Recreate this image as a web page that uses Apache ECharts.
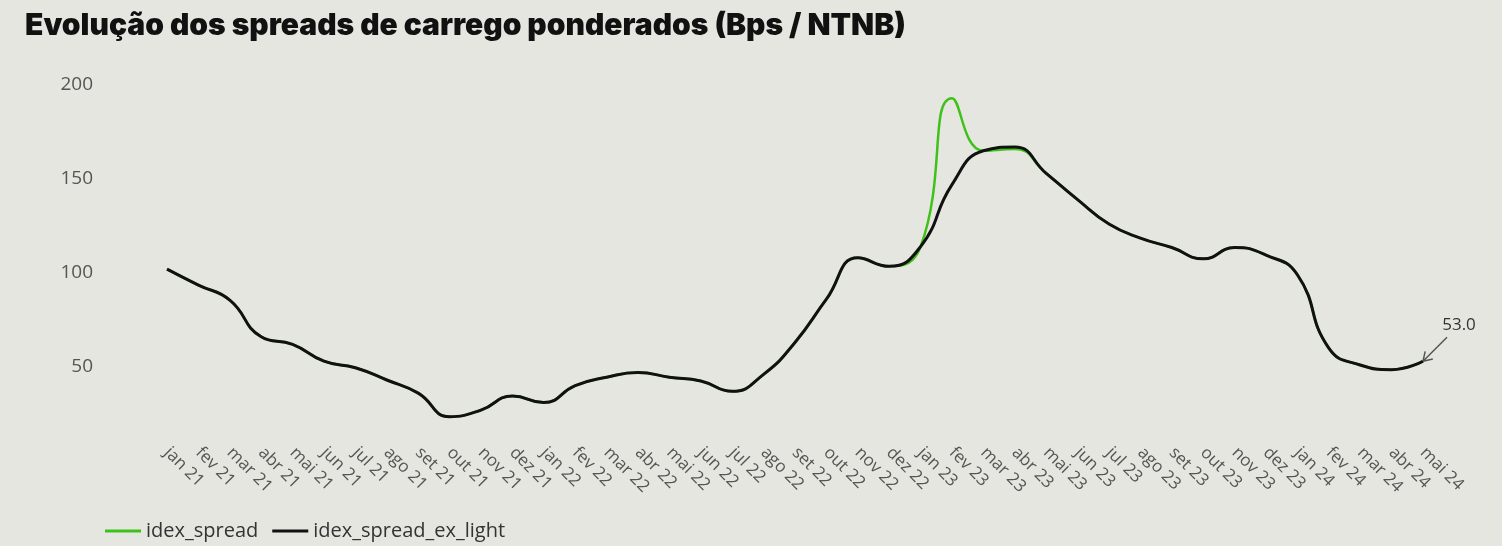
<!DOCTYPE html>
<html>
<head>
<meta charset="utf-8">
<title>Evolução dos spreads de carrego ponderados</title>
<script src="https://cdn.jsdelivr.net/npm/echarts@6.0.0/dist/echarts.min.js"></script>
<style>
  html, body { margin: 0; padding: 0; background: #ffffff; }
  #chart { width: 1502px; height: 546px; background: #e6e6e1; }
</style>
</head>
<body>
<div id="chart"></div>
<script>
// meses (jan 21 .. mai 24)
var months = [
  'jan 21', 'fev 21', 'mar 21', 'abr 21', 'mai 21', 'jun 21', 'jul 21', 'ago 21', 'set 21', 'out 21', 'nov 21', 'dez 21',
  'jan 22', 'fev 22', 'mar 22', 'abr 22', 'mai 22', 'jun 22', 'jul 22', 'ago 22', 'set 22', 'out 22', 'nov 22', 'dez 22',
  'jan 23', 'fev 23', 'mar 23', 'abr 23', 'mai 23', 'jun 23', 'jul 23', 'ago 23', 'set 23', 'out 23', 'nov 23', 'dez 23',
  'jan 24', 'fev 24', 'mar 24', 'abr 24', 'mai 24'
];

// idex_spread (verde)
var idexSpread = [
  102, 93.5, 85.5, 66, 62, 53, 49.5, 43, 36, 23.5, 27, 34.5,
  31, 40, 44.5, 47, 44.5, 42.5, 37, 46, 63, 86, 108, 103.5,
  114, 193, 165, 166, 153, 139, 126, 118.5, 113.5, 107.5, 113.5, 109.5,
  99, 60, 51, 48.5, 53
];

// idex_spread_ex_light (preto)
var idexSpreadExLight = [
  102, 93.5, 85.5, 66, 62, 53, 49.5, 43, 36, 23.5, 27, 34.5,
  31, 40, 44.5, 47, 44.5, 42.5, 37, 46, 63, 86, 108, 103.5,
  114, 147, 165, 167, 153, 139, 126, 118.5, 113.5, 107.5, 113.5, 109.5,
  99, 60, 51, 48.5, 53
];

var yTicks = [50, 100, 150, 200];

var lastIdx = months.length - 1;

var myChart = echarts.init(document.getElementById('chart'));

var option = {
  backgroundColor: '#e6e6e1',
  animation: false,
  title: {
    text: 'Evolução dos spreads de carrego ponderados (Bps / NTNB)',
    left: 20,
    top: 6,
    textStyle: {
      fontFamily: 'Inter',
      fontWeight: 900,
      fontSize: 30,
      color: '#111111'
    }
  },
  legend: {
    left: 100,
    top: 516,
    icon: 'rect',
    itemWidth: 36,
    itemHeight: 3,
    itemGap: 14,
    textStyle: { fontFamily: 'Open Sans', fontSize: 20, color: '#333333' },
    data: ['idex_spread', 'idex_spread_ex_light']
  },
  grid: {
    left: 167,
    right: 79,
    top: 85,
    bottom: 104
  },
  xAxis: {
    type: 'category',
    data: months,
    boundaryGap: false,
    axisLine: { show: false },
    axisTick: { show: false },
    axisLabel: {
      rotate: -45,
      margin: 8,
      interval: 0,
      fontFamily: 'Open Sans',
      fontSize: 17,
      color: '#555555'
    }
  },
  yAxis: {
    type: 'value',
    min: 10,
    max: 200,
    splitLine: { show: false },
    axisLine: { show: false },
    axisTick: { show: false },
    axisLabel: {
      customValues: yTicks,
      margin: 74,
      fontFamily: 'Open Sans',
      fontSize: 19,
      color: '#555555'
    }
  },
  series: [
    {
      name: 'idex_spread',
      type: 'line',
      smooth: 0.5,
      showSymbol: false,
      data: idexSpread,
      lineStyle: { width: 2.5, color: '#3ec21a' },
      itemStyle: { color: '#3ec21a' },
      z: 2
    },
    {
      name: 'idex_spread_ex_light',
      type: 'line',
      smooth: 0.5,
      showSymbol: false,
      data: idexSpreadExLight,
      lineStyle: { width: 3, color: '#111111' },
      itemStyle: { color: '#111111' },
      z: 3,
      // seta com o ultimo valor
      markPoint: {
        symbol: 'path://M24,0 L2,22 M2,22 L11,20 M2,22 L4,13',
        symbolSize: [24, 24],
        symbolKeepAspect: true,
        symbolOffset: [12, -12],
        itemStyle: { color: 'transparent', borderColor: '#555555', borderWidth: 1.5 },
        label: {
          show: true,
          position: 'top',
          offset: [24, 2],
          fontFamily: 'Open Sans',
          fontSize: 17,
          color: '#333333',
          formatter: function (p) { return p.value.toFixed(1); }
        },
        data: [
          { coord: [months[lastIdx], idexSpreadExLight[lastIdx]], value: idexSpreadExLight[lastIdx] }
        ]
      }
    }
  ]
};

myChart.setOption(option);
</script>
</body>
</html>
